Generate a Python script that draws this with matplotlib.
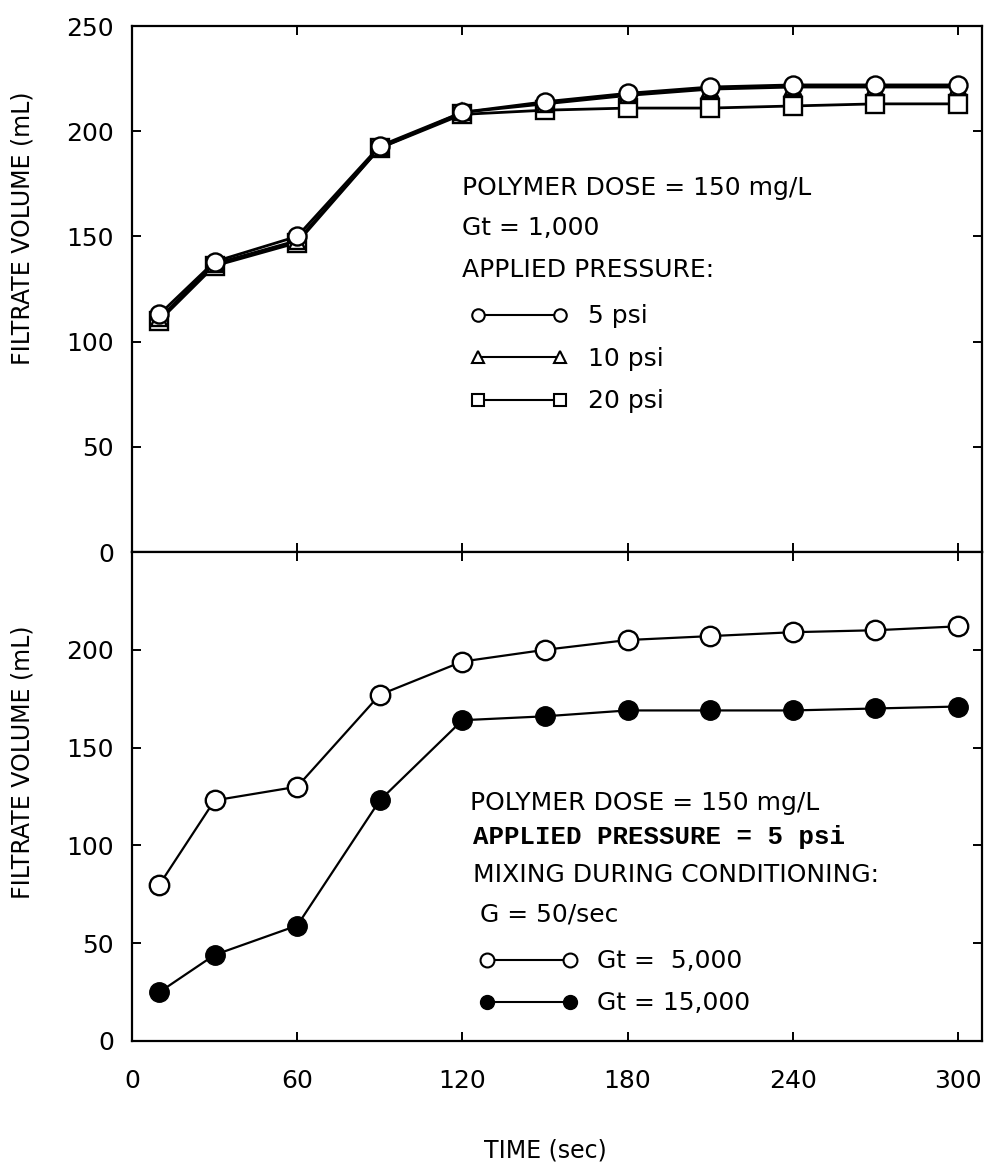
import numpy as np
import matplotlib
matplotlib.use("Agg")
import matplotlib.pyplot as plt
from matplotlib.lines import Line2D

plt.rcParams['font.family'] = ['DejaVu Sans']

# filtration time (sec)
time_s = [10, 30, 60, 90, 120, 150, 180, 210, 240, 270, 300]

# top: Gt = 1,000, different applied pressures
vol_5psi = [113, 138, 150, 193, 209, 214, 218, 221, 222, 222, 222]
vol_10psi = [111, 137, 148, 192, 209, 213, 217, 220, 221, 221, 221]
vol_20psi = [110, 136, 147, 192, 208, 210, 211, 211, 212, 213, 213]
pressure_labels = ['5 psi', '10 psi', '20 psi']

# bottom: G = 50/sec, two Gt values
vol_gt5000 = [80, 123, 130, 177, 194, 200, 205, 207, 209, 210, 212]
vol_gt15000 = [25, 44, 59, 123, 164, 166, 169, 169, 169, 170, 171]
gt_labels = ['Gt =  5,000', 'Gt = 15,000']

xticks = [0, 60, 120, 180, 240, 300]

fig = plt.figure(figsize=(9.87, 11.72), dpi=100)
ax1 = fig.add_axes([0.1337, 0.529, 0.8612, 0.4488])
ax2 = fig.add_axes([0.1337, 0.1118, 0.8612, 0.4172])

for ax in (ax1, ax2):
    ax.set_xlim(0, 308.7)
    ax.set_ylim(0, 250)
    ax.set_xticks(xticks)
    for s in ax.spines.values():
        s.set_linewidth(1.6)
    ax.tick_params(direction='in', length=6.5, width=1.4, labelsize=18,
                   top=True, right=True, pad=13)
    ax.tick_params(axis='x', pad=20)
    ax.set_ylabel('FILTRATE VOLUME (mL)', fontsize=17, va='center')

ax1.set_yticks([0, 50, 100, 150, 200, 250])
ax1.tick_params(labelbottom=False)
ax2.set_yticks([0, 50, 100, 150, 200])
ax1.yaxis.set_label_coords(-0.129, 0.616)
ax2.yaxis.set_label_coords(-0.129, 0.571)

# top panel
kw = dict(color='black', mfc='white', mec='black', mew=1.7, lw=2.0)
ax1.plot(time_s, vol_20psi, marker='s', ms=13, **kw)
ax1.plot(time_s, vol_10psi, marker='^', ms=12, **kw)
ax1.plot(time_s, vol_5psi, marker='o', ms=13, **kw)

ax1.text(0.388, 0.692, 'POLYMER DOSE = 150 mg/L', transform=ax1.transAxes,
         fontsize=18, va='center')
ax1.text(0.388, 0.616, 'Gt = 1,000', transform=ax1.transAxes, fontsize=18, va='center')
ax1.text(0.388, 0.536, 'APPLIED PRESSURE:', transform=ax1.transAxes, fontsize=18, va='center')

lkw = dict(color='black', mfc='white', mec='black', mew=1.5, lw=1.5, ms=9)
h1 = [Line2D([], [], marker='o', **lkw),
      Line2D([], [], marker='^', **lkw),
      Line2D([], [], marker='s', **lkw)]
ax1.legend(h1, pressure_labels, loc='center left', bbox_to_anchor=(0.398, 0.367),
           frameon=False, numpoints=2, handlelength=3.9, handletextpad=0.8,
           labelspacing=0.74, borderpad=0, borderaxespad=0, fontsize=18)

# bottom panel
ax2.plot(time_s, vol_gt5000, marker='o', ms=14, color='black', mfc='white',
         mec='black', mew=1.7, lw=1.6)
ax2.plot(time_s, vol_gt15000, marker='o', ms=14, color='black', mfc='black',
         mec='black', lw=1.6)

ax2.text(0.398, 0.487, 'POLYMER DOSE = 150 mg/L', transform=ax2.transAxes,
         fontsize=18, va='center')
ax2.text(0.401, 0.417, 'APPLIED PRESSURE = 5 psi', transform=ax2.transAxes,
         fontsize=18.5, va='center', family='Liberation Mono', weight='bold')
ax2.text(0.401, 0.339, 'MIXING DURING CONDITIONING:', transform=ax2.transAxes,
         fontsize=18, va='center')
ax2.text(0.409, 0.258, 'G = 50/sec', transform=ax2.transAxes, fontsize=18, va='center')

h2 = [Line2D([], [], marker='o', color='black', mfc='white', mec='black',
             mew=1.5, lw=1.5, ms=10),
      Line2D([], [], marker='o', color='black', mfc='black', mec='black',
             lw=1.5, ms=10)]
ax2.legend(h2, gt_labels, loc='center left', bbox_to_anchor=(0.409, 0.120),
           frameon=False, numpoints=2, handlelength=3.9, handletextpad=0.8,
           labelspacing=0.72, borderpad=0, borderaxespad=0, fontsize=18)

ax2.set_xlabel('TIME (sec)', fontsize=17, va='center')
ax2.xaxis.set_label_coords(0.486, -0.223)

fig.savefig('out.png', dpi=100)
